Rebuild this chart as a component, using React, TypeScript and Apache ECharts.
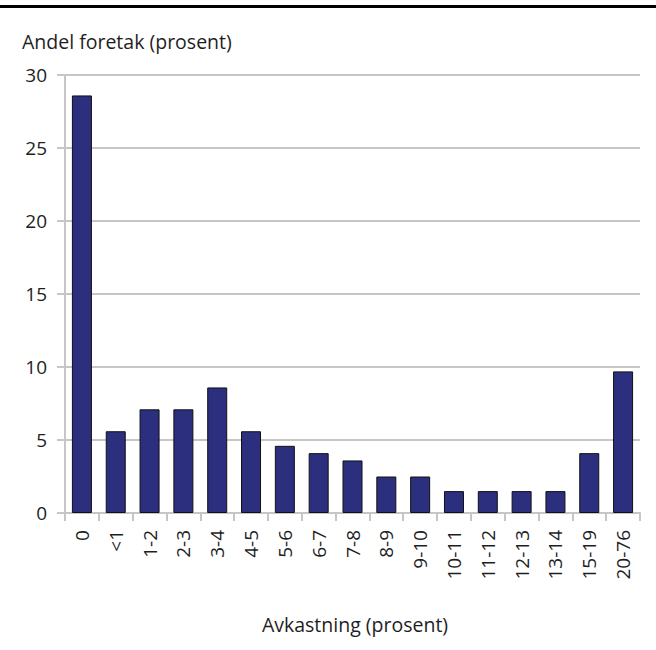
import React, { useEffect, useRef } from "react";
import * as echarts from "echarts";

const categories = ["0", "<1", "1-2", "2-3", "3-4", "4-5", "5-6", "6-7", "7-8", "8-9", "9-10", "10-11", "11-12", "12-13", "13-14", "15-19", "20-76"];
const values = [28.6, 5.6, 7.1, 7.1, 8.6, 5.6, 4.6, 4.1, 3.6, 2.5, 2.5, 1.5, 1.5, 1.5, 1.5, 4.1, 9.7];
const yTicks = { min: 0, max: 30, interval: 5 };
const yTitle = "Andel foretak (prosent)";
const xTitle = "Avkastning (prosent)";

const FONT = "Open Sans";

export default function App() {
  const ref = useRef<HTMLDivElement>(null);
  useEffect(() => {
    document.body.style.margin = "0";
    const chart = echarts.init(ref.current!, null, { renderer: "svg" });
    chart.setOption({
      animation: false,
      backgroundColor: "#ffffff",
      textStyle: { fontFamily: FONT },
      grid: { left: 65, right: 16, top: 75, bottom: 137, containLabel: false },
      graphic: [
        { type: "rect", left: 0, top: 5, shape: { width: 656, height: 3 }, style: { fill: "#000" } },
        { type: "text", x: 22, y: 41, style: { text: yTitle, font: `19.5px "${FONT}"`, fill: "#1e1e1e", verticalAlign: "middle" } },
        { type: "text", x: 355, y: 624, style: { text: xTitle, font: `19.5px "${FONT}"`, fill: "#1e1e1e", align: "center", verticalAlign: "middle" } },
      ],
      xAxis: {
        type: "category",
        data: categories,
        axisLine: { lineStyle: { color: "#c6c6c6", width: 2 } },
        axisTick: { show: true, alignWithLabel: false, length: 8, lineStyle: { color: "#c6c6c6", width: 2 } },
        axisLabel: { rotate: 90, margin: 17, fontSize: 19, color: "#1e1e1e", fontFamily: FONT, interval: 0 },
      },
      yAxis: {
        type: "value",
        min: yTicks.min,
        max: yTicks.max,
        interval: yTicks.interval,
        axisLine: { show: true, lineStyle: { color: "#c6c6c6", width: 2 } },
        axisTick: { show: true, length: 8, lineStyle: { color: "#c6c6c6", width: 2 } },
        axisLabel: { margin: 18, fontSize: 19, color: "#1e1e1e", fontFamily: FONT },
        splitLine: { show: true, lineStyle: { color: "#c6c6c6", width: 2 } },
      },
      series: [
        {
          type: "bar",
          data: values,
          barWidth: 20,
          itemStyle: { color: "#2b2f7e", borderColor: "#111", borderWidth: 1 },
        },
      ],
    });
    return () => chart.dispose();
  }, []);
  return <div ref={ref} style={{ width: 656, height: 650 }} />;
}
